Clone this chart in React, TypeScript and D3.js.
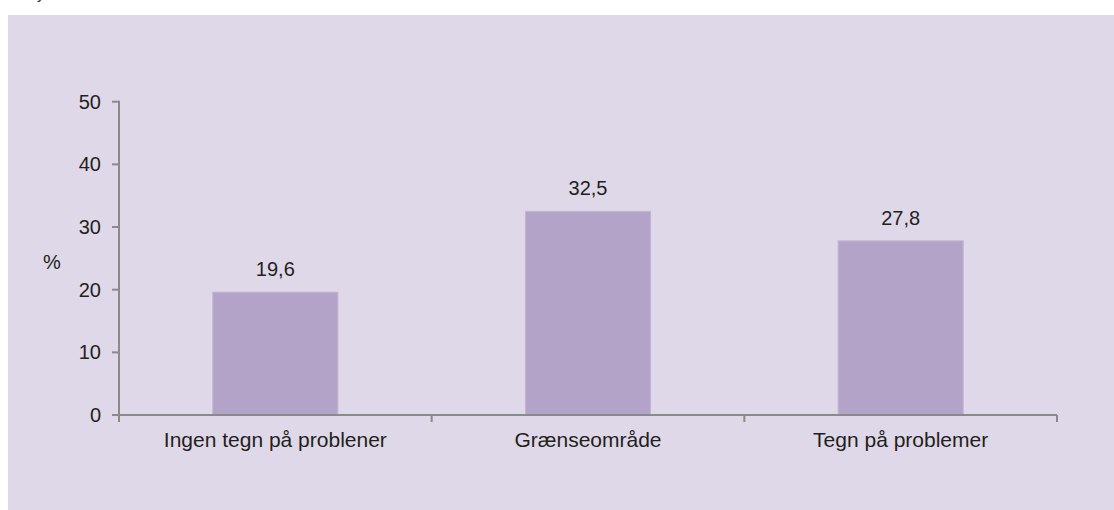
import React from "react";
import * as d3 from "d3";

const categories: string[] = ["Ingen tegn på problener", "Grænseområde", "Tegn på problemer"];
const values: number[] = [19.6, 32.5, 27.8];
const yTicks: number[] = [0, 10, 20, 30, 40, 50];
const yLabel = "%";

const W = 1114;
const H = 510;
const FONT = "'Liberation Sans', Arial, Helvetica, sans-serif";

export default function App() {
  const x0 = 119;
  const x1 = 1057;
  const yBase = 415;
  const yTop = 101.7;

  const x = d3.scaleBand<string>().domain(categories).range([x0, x1]).padding(0);
  const y = d3.scaleLinear().domain([0, 50]).range([yBase, yTop]);
  const barW = x.bandwidth() * 0.4;
  const fmt = (v: number) => d3.format(".1f")(v).replace(".", ",");
  const axisColor = "#8a8a8a";
  const textColor = "#231f20";

  const boundaries = [...categories.map((c) => x(c) as number), x1];

  return (
    <svg
      width={W}
      height={H}
      style={{ position: "absolute", left: 0, top: 0, display: "block" }}
      fontFamily={FONT}
    >
      <rect x={0} y={0} width={W} height={H} fill="#ffffff" />
      <text x={37} y={-1} fontSize={15} fill={textColor}>y</text>
      <rect x={8} y={15} width={W - 8} height={H - 15} fill="#dfd8e8" />

      {categories.map((c, i) => {
        const cx = (x(c) as number) + x.bandwidth() / 2;
        return (
          <g key={c}>
            <rect
              x={cx - barW / 2}
              y={y(values[i])}
              width={barW}
              height={yBase - y(values[i])}
              fill="#b3a3c8"
              stroke="#c2b5d5"
              strokeWidth={1}
            />
            <text
              x={cx}
              y={y(values[i]) - 16}
              textAnchor="middle"
              fontSize={20}
              fill={textColor}
            >
              {fmt(values[i])}
            </text>
            <text x={cx} y={447} textAnchor="middle" fontSize={21} fill={textColor}>
              {c}
            </text>
          </g>
        );
      })}

      {/* y axis */}
      <line x1={x0} x2={x0} y1={yTop - 1} y2={yBase + 7} stroke={axisColor} strokeWidth={2} />
      {yTicks.map((t) => (
        <g key={t}>
          <line x1={x0 - 7} x2={x0} y1={y(t)} y2={y(t)} stroke={axisColor} strokeWidth={2} />
          <text
            x={101}
            y={y(t)}
            dy="0.35em"
            textAnchor="end"
            fontSize={20}
            fill={textColor}
          >
            {t}
          </text>
        </g>
      ))}
      <text x={52} y={262} dy="0.35em" textAnchor="middle" fontSize={20} fill={textColor}>
        {yLabel}
      </text>

      {/* x axis */}
      <line x1={x0} x2={x1} y1={yBase} y2={yBase} stroke={axisColor} strokeWidth={2} />
      {boundaries.map((bx, i) => (
        <line key={i} x1={bx} x2={bx} y1={yBase} y2={yBase + 7} stroke={axisColor} strokeWidth={2} />
      ))}
    </svg>
  );
}
